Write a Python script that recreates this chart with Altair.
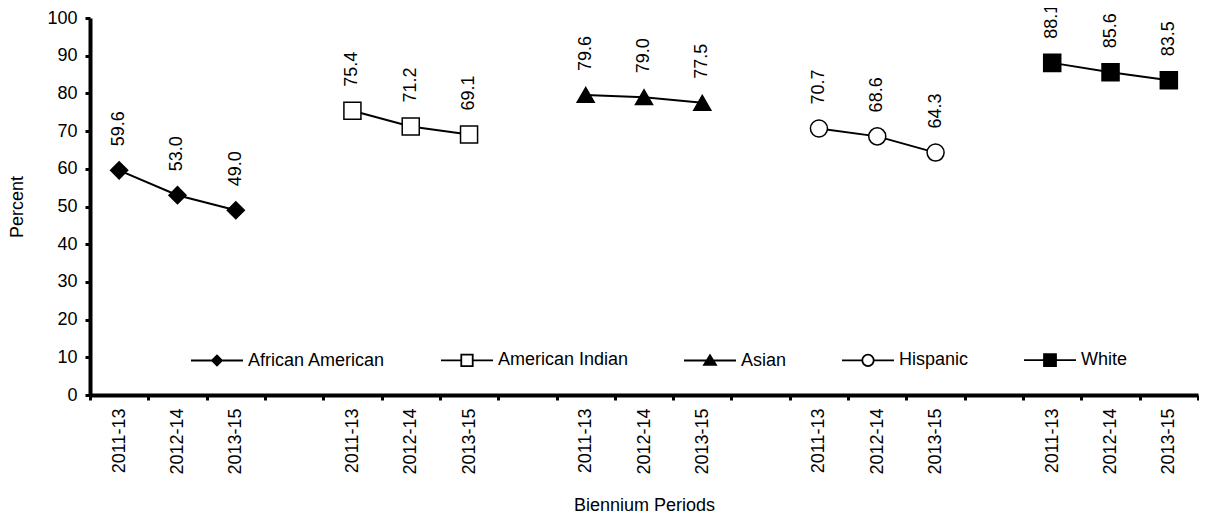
import altair as alt
import pandas as pd

FONT = "Liberation Sans"

groups = ["African American", "American Indian", "Asian", "Hispanic", "White"]
periods = ["2011-13", "2012-14", "2013-15"]
african_american = [59.6, 53.0, 49.0]
american_indian = [75.4, 71.2, 69.1]
asian = [79.6, 79.0, 77.5]
hispanic = [70.7, 68.6, 64.3]
white = [88.1, 85.6, 83.5]
series = [african_american, american_indian, asian, hispanic, white]
shapes = ["diamond", "square", "triangle-up", "circle", "square"]
fills = ["black", "white", "black", "white", "black"]
strokes = ["black"] * 5
period_labels = ["2011-13", "2012-14", "2013-15", ""]

rows = []
for gi, (g, vals) in enumerate(zip(groups, series)):
    for pi, (p, v) in enumerate(zip(periods, vals)):
        rows.append({"group": g, "period": p, "slot": gi * 4 + pi,
                     "value": v, "label": f"{v:.1f}"})
df = pd.DataFrame(rows)
slots = list(range(len(groups) * 4 - 1))

# legend symbols: line with marker (unit square -1..1)
leg_paths = [
    "M-1,0H1M-0.19,0L0,-0.19L0.19,0L0,0.19Z",
    "M-1,0H-0.22M0.22,0H1M-0.22,-0.22H0.22V0.22H-0.22Z",
    "M-1,0H1M0,-0.2L0.23,0.17L-0.23,0.17Z",
    ("M-1,0H-0.22M0.22,0H1M-0.22,0C-0.22,-0.1215,-0.1215,-0.22,0,-0.22"
     "C0.1215,-0.22,0.22,-0.1215,0.22,0C0.22,0.1215,0.1215,0.22,0,0.22"
     "C-0.1215,0.22,-0.22,0.1215,-0.22,0Z"),
    "M-1,0H1M-0.23,-0.23H0.23V0.23H-0.23Z",
]

label_expr = ("isValid(datum.value) ? ['" + "','".join(period_labels)
              + "'][toNumber(datum.value) % 4] : ''")

x_enc = alt.X(
    "slot:N",
    scale=alt.Scale(type="band", domain=slots, paddingInner=0, paddingOuter=0),
    axis=alt.Axis(
        title="Biennium Periods", labelExpr=label_expr, tickBand="extent",
        labelAngle=270, labelAlign="right", labelBaseline="middle",
        labelFont=FONT, labelFontSize=18, labelColor="black", labelPadding=8,
        tickSize=5, tickWidth=3, tickColor="black",
        domainWidth=4, domainColor="black",
        titleFont=FONT, titleFontSize=18, titleFontWeight="normal",
        titleColor="black", titlePadding=22, grid=False,
    ),
)
y_enc = alt.Y(
    "value:Q",
    scale=alt.Scale(domain=[0, 100], nice=False),
    axis=alt.Axis(
        title="Percent", values=list(range(0, 101, 10)),
        labelFont=FONT, labelFontSize=18, labelColor="black", labelPadding=8,
        tickSize=5, tickWidth=3, tickColor="black",
        domainWidth=4, domainColor="black",
        titleFont=FONT, titleFontSize=18, titleFontWeight="normal",
        titleColor="black", titlePadding=20, grid=False,
    ),
)

base = alt.Chart(df).encode(x=x_enc, y=y_enc)

lines = base.mark_line(color="black", strokeWidth=2).encode(detail="group:N")

point_layers = []
for g, shp, f in zip(groups, shapes, fills):
    point_layers.append(
        base.transform_filter(alt.datum.group == g).mark_point(
            shape=shp, filled=True, fill=f, size=290, stroke="black",
            strokeWidth=1.5, opacity=1)
    )

legend = alt.Legend(
    orient="none", legendX=100, legendY=315, direction="horizontal",
    columns=5, title=None, labelFont=FONT, labelFontSize=18,
    labelColor="black", symbolSize=2704, labelOffset=4,
    columnPadding=51, padding=0, symbolStrokeWidth=1.8,
    symbolOpacity=1,
)
legend_layer = base.mark_point(filled=True, opacity=0).encode(
    shape=alt.Shape("group:N", scale=alt.Scale(domain=groups, range=leg_paths),
                    legend=legend),
    fill=alt.Fill("group:N", scale=alt.Scale(domain=groups, range=fills),
                  legend=legend),
    stroke=alt.Stroke("group:N", scale=alt.Scale(domain=groups, range=strokes),
                      legend=legend),
)

labels = base.mark_text(angle=270, align="left", baseline="middle", dx=24,
                        font=FONT, fontSize=18, color="black").encode(text="label:N")

chart = alt.layer(lines, *point_layers, legend_layer, labels).properties(
    width=1108, height=377,
    autosize=alt.AutoSizeParams(type="none"),
    padding={"left": 82, "top": 10, "right": 1, "bottom": 120},
).configure_view(stroke=None)

chart.save("out.html", embed_options={"renderer": "svg", "actions": False})
